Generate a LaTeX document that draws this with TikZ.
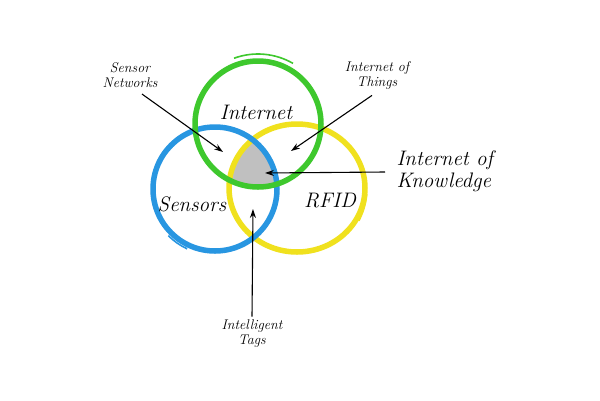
\documentclass[tikz,border=0pt]{standalone}
\usepackage{fontspec}
\usetikzlibrary{arrows.meta}
\definecolor{cgreen}{RGB}{62,200,45}
\definecolor{cblue}{RGB}{40,150,225}
\definecolor{cyellow}{RGB}{240,225,30}
\definecolor{cgray}{RGB}{192,192,192}
\newcommand{\bigtxt}{\itshape\fontsize{21pt}{22pt}\selectfont}
\newcommand{\smalltxt}{\itshape\fontsize{14pt}{15pt}\selectfont}
\tikzset{
  ring/.style={line width=5.5pt},
  tail/.style={line width=1.6pt},
  arr/.style={line width=1.1pt, -{Stealth[length=9pt,width=6pt]}},
  big/.style={font=\bigtxt},
  small/.style={font=\smalltxt, align=center},
  mid/.style={font=\bigtxt, align=left},
}
\begin{document}
\begin{tikzpicture}[x=1pt,y=-1pt]
\useasboundingbox (0,0) rectangle (600,400);
\fill[white] (0,0) rectangle (600,400);
% gray triple intersection
\begin{scope}
  \clip (258,124) circle (63);
  \clip (215,189) circle (62);
  \fill[cgray] (297,188) ellipse (68 and 64);
\end{scope}
% circles
\draw[ring, cyellow] (297,188) ellipse (68 and 64);
\draw[tail, cyellow] (297,188) ++(5:70) arc (5:28:70);
\draw[ring, cblue] (215,189) circle (62);
\draw[tail, cblue] (215,189) ++(115:66) arc (115:135:66);
\draw[ring, cgreen] (258,124) circle (63);
\draw[tail, cgreen] (258,124) ++(250:70) arc (250:300:70);
% labels
\node[big] (inet) at (256,112) {Internet};
\node[big] (sens) at (192,204) {Sensors};
\node[big] (rfid) at (330,201) {RFID};
\node[small] (sn) at (130,75) {Sensor\\Networks};
\node[small] (iot) at (377,75) {Internet of\\Things};
\node[small] (it) at (252,334) {Intelligent\\Tags};
\node[mid, anchor=west] (iok) at (393,171) {Internet of\\Knowledge};
% arrow end points
\coordinate (sntip) at (223,152);
\coordinate (iottip) at (291,151);
\coordinate (ioktip) at (265,173);
\coordinate (ittip) at (253,209);
\draw[arr] ([shift={(12,3)}]sn.south) -- (sntip);
\draw[arr] ([shift={(-5,3)}]iot.south) -- (iottip);
\draw[arr] ([shift={(-8,1)}]iok.west) -- (ioktip);
\draw[arr] (it.north) -- (ittip);
\end{tikzpicture}
\end{document}
